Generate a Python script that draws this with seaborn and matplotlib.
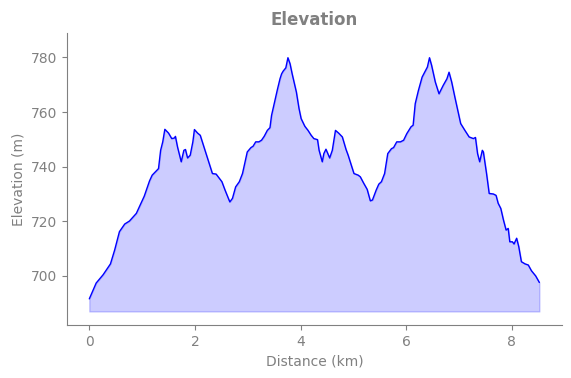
import matplotlib
matplotlib.use("Agg")
import matplotlib.pyplot as plt
import seaborn as sns
import pandas as pd

distance_km = [0.0, 0.13, 0.26, 0.40, 0.48, 0.57, 0.67, 0.76, 0.89, 1.04, 1.14, 1.19,
               1.31, 1.35, 1.39, 1.43, 1.50, 1.56, 1.61, 1.63, 1.67, 1.74, 1.79, 1.82,
               1.86, 1.91, 1.96, 1.99, 2.05, 2.10, 2.18, 2.25, 2.33, 2.40, 2.51, 2.57,
               2.62, 2.66, 2.71, 2.77, 2.84, 2.90, 2.95, 2.99, 3.06, 3.10, 3.15, 3.21,
               3.26, 3.31, 3.37, 3.42, 3.45, 3.50, 3.56, 3.61, 3.64, 3.67, 3.72, 3.76,
               3.80, 3.84, 3.92, 3.97, 4.01, 4.08, 4.14, 4.20, 4.25, 4.32, 4.35, 4.41,
               4.44, 4.48, 4.55, 4.60, 4.66, 4.72, 4.79, 4.86, 4.90, 4.96, 5.01, 5.09,
               5.13, 5.19, 5.26, 5.32, 5.36, 5.43, 5.48, 5.53, 5.59, 5.65, 5.72, 5.76,
               5.82, 5.89, 5.95, 6.01, 6.09, 6.13, 6.17, 6.23, 6.30, 6.36, 6.40, 6.44,
               6.48, 6.55, 6.62, 6.70, 6.77, 6.81, 6.86, 6.92, 6.99, 7.03, 7.11, 7.19,
               7.27, 7.31, 7.35, 7.39, 7.44, 7.46, 7.52, 7.57, 7.65, 7.70, 7.74, 7.79,
               7.84, 7.89, 7.93, 7.96, 8.01, 8.04, 8.09, 8.13, 8.18, 8.25, 8.31, 8.37,
               8.45, 8.52]

elevation_m = [691.6, 697.4, 700.4, 704.4, 709.5, 716.2, 719.0, 720.1, 722.9, 729.2, 734.8, 736.9,
               739.3, 746.0, 749.1, 753.7, 752.3, 750.3, 750.5, 751.1, 747.2, 741.8, 746.0, 746.3,
               743.2, 744.2, 749.1, 753.6, 752.3, 751.5, 746.6, 742.4, 737.5, 737.3, 734.5, 731.4,
               729.0, 727.1, 728.4, 732.6, 734.5, 737.5, 741.8, 745.4, 747.0, 747.5, 749.1, 749.1,
               749.7, 751.1, 753.3, 754.3, 758.8, 763.1, 768.2, 772.2, 774.0, 775.0, 776.2, 779.9,
               777.7, 774.0, 767.3, 761.3, 757.6, 754.8, 753.3, 751.5, 750.3, 749.9, 746.0, 741.8,
               744.8, 746.4, 743.2, 746.0, 753.3, 752.3, 750.9, 746.3, 744.2, 740.5, 737.5, 736.9,
               736.3, 734.1, 731.7, 727.5, 727.8, 731.4, 733.6, 734.5, 737.5, 744.8, 746.6, 747.0,
               749.1, 749.1, 749.7, 752.1, 754.6, 755.2, 763.1, 767.9, 772.8, 775.0, 776.5, 779.9,
               777.1, 771.0, 766.7, 769.8, 772.2, 774.6, 771.0, 765.5, 759.4, 755.8, 753.3, 750.9,
               750.3, 750.7, 744.8, 741.8, 746.0, 745.4, 737.5, 730.2, 730.0, 729.5, 726.6, 724.7,
               720.5, 716.8, 717.4, 712.5, 712.5, 711.7, 713.8, 710.7, 705.2, 704.4, 704.0, 701.9,
               700.0, 697.6]

fill_base = 687

df = pd.DataFrame({"Distance (km)": distance_km, "Elevation (m)": elevation_m})

sns.set_style("ticks")
grey = "#808080"
fig = plt.figure(figsize=(5.71, 3.78), dpi=100)
ax = fig.add_axes([0.117, 0.140, 0.867, 0.773])

sns.lineplot(data=df, x="Distance (km)", y="Elevation (m)", ax=ax,
             color="blue", linewidth=1)
ax.fill_between(df["Distance (km)"], df["Elevation (m)"], fill_base,
                color="blue", alpha=0.2)

ax.set_ylim(682, 789)
ax.set_yticks([700, 720, 740, 760, 780])
ax.set_xticks([0, 2, 4, 6, 8])
ax.set_title("Elevation", color=grey, fontsize=12, fontweight="bold")
ax.set_xlabel("Distance (km)", color=grey, fontsize=10)
ax.set_ylabel("Elevation (m)", color=grey, fontsize=10)
ax.tick_params(colors=grey, labelcolor=grey, labelsize=10)
for s in ["left", "bottom"]:
    ax.spines[s].set_color(grey)
sns.despine(ax=ax)

fig.savefig("out.png", dpi=100)
